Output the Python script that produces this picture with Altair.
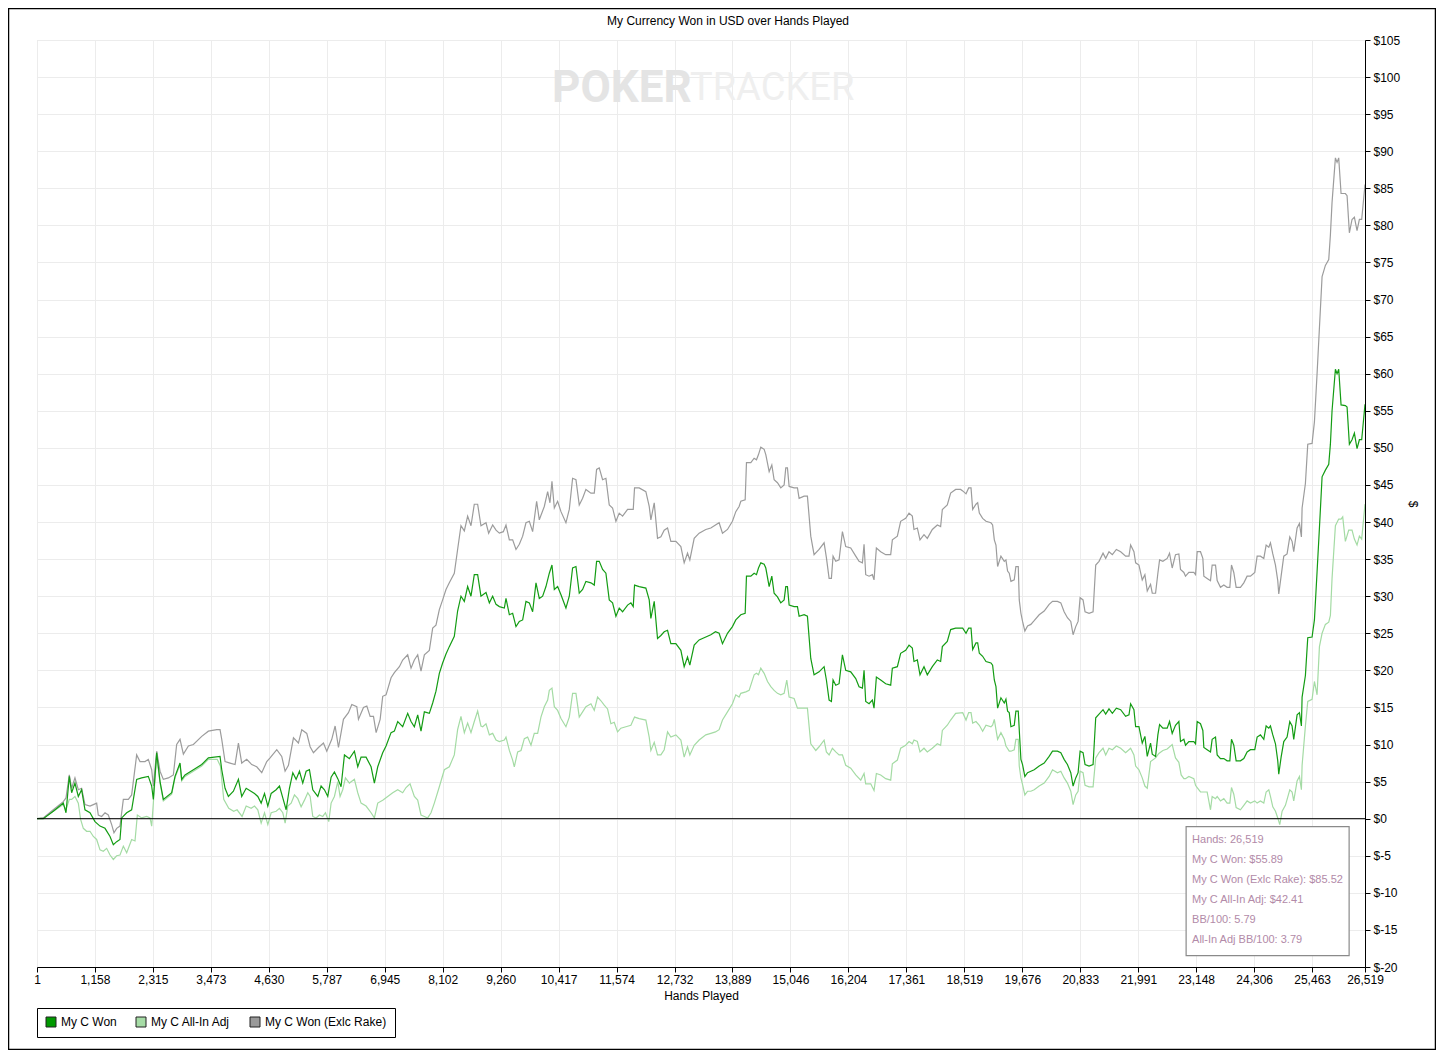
import altair as alt
import pandas as pd

SERIES = ["My C Won", "My C All-In Adj", "My C Won (Exlc Rake)"]
LINE_COLORS = ["#139c13", "#a4dba4", "#9c9c9c"]
SWATCH_COLORS = ["#009900", "#a6dca6", "#999999"]

X_TICKS = [1, 1158, 2315, 3473, 4630, 5787, 6945, 8102, 9260, 10417, 11574, 12732,
           13889, 15046, 16204, 17361, 18519, 19676, 20833, 21991, 23148, 24306,
           25463, 26519]
Y_TICKS = list(range(-20, 110, 5))

WON = [(1,0),(127,0),(326,1.0),(526,2.1),(580,0.8),(646,5.7),(693,3.5),(759,4.8),(826,3.0),(892,3.9),(959,1.2),(1059,0.8),(1159,-0.4),(1259,-1.0),(1359,-1.3),(1459,-2.4),(1525,-3.5),(1592,-3.1),(1658,-2.8),(1692,0.1),(1792,0.8),(1891,1.2),(1991,5.3),(2091,5.5),(2224,5.7),(2291,4.4),(2324,2.6),(2391,8.9),(2458,5.0),(2524,2.6),(2691,3.5),(2757,5.7),(2857,7.5),(2890,5.3),(2957,5.9),(3124,6.6),(3290,7.3),(3423,8.2),(3656,8.4),(3690,6.6),(3756,4.1),(3823,3.0),(3923,3.7),(4023,5.3),(4089,3.0),(4178,4.1),(4344,3.4),(4410,3.0),(4477,2.1),(4544,3.4),(4610,1.7),(4677,3.4),(4776,3.9),(4843,4.4),(4909,2.8),(4976,1.2),(5042,4.1),(5109,6.2),(5175,5.3),(5242,6.4),(5308,4.8),(5375,6.4),(5441,6.6),(5508,3.9),(5608,3.0),(5674,4.4),(5741,3.9),(5807,3.0),(5874,5.6),(5940,6.3),(6007,5.4),(6073,4.3),(6140,8.6),(6239,8.1),(6339,9.1),(6406,7.0),(6472,8.3),(6572,8.3),(6672,7.0),(6738,4.8),(6805,7.0),(6904,8.9),(6971,9.8),(7071,11.6),(7137,11.8),(7204,13.1),(7303,12.4),(7403,14.2),(7470,13.1),(7536,12.4),(7603,14.0),(7669,11.8),(7736,14.4),(7835,14.2),(7902,15.6),(7968,17.2),(8035,19.6),(8101,21.0),(8168,22.2),(8234,23.2),(8334,24.6),(8400,28.0),(8467,30.0),(8534,29.3),(8600,31.3),(8667,30.0),(8733,32.9),(8800,32.9),(8866,30.0),(8967,30.5),(9034,29.1),(9100,30.0),(9167,28.9),(9233,28.6),(9333,28.4),(9366,29.7),(9433,27.5),(9499,27.7),(9566,25.9),(9632,26.6),(9699,26.8),(9765,29.3),(9832,29.1),(9898,27.9),(9965,31.8),(10031,29.7),(10098,30.0),(10164,31.3),(10231,33.1),(10284,34.2),(10331,30.9),(10397,31.3),(10464,30.2),(10563,28.4),(10630,30.0),(10696,33.8),(10763,34.0),(10829,30.4),(10896,30.9),(10962,32.0),(11062,31.8),(11129,31.5),(11175,34.7),(11228,34.7),(11295,33.6),(11361,33.1),(11428,29.5),(11494,29.1),(11561,27.3),(11627,28.4),(11694,27.9),(11794,28.8),(11860,29.1),(11907,28.6),(11933,31.5),(12026,31.3),(12159,31.1),(12226,29.5),(12259,27.0),(12326,29.3),(12392,24.3),(12459,24.7),(12525,25.2),(12592,25.4),(12658,23.6),(12758,23.6),(12858,22.7),(12924,20.5),(12991,21.8),(13037,20.7),(13124,23.4),(13223,24.1),(13356,24.5),(13456,24.8),(13549,25.2),(13622,25.0),(13689,23.6),(13789,25.0),(13888,25.9),(13955,26.8),(14055,27.5),(14142,27.7),(14168,32.7),(14255,32.7),(14321,33.1),(14368,32.9),(14408,33.8),(14454,34.5),(14521,34.3),(14554,33.8),(14621,31.3),(14674,32.7),(14720,30.4),(14787,29.9),(14853,29.1),(14920,29.5),(14953,31.3),(14986,31.3),(15020,28.8),(15119,28.6),(15186,28.6),(15219,27.3),(15319,27.5),(15385,27.3),(15452,21.6),(15518,19.4),(15618,19.8),(15718,20.5),(15764,18.7),(15818,16.0),(15864,15.8),(15897,18.7),(15951,18.0),(16017,18.2),(16084,22.1),(16150,20.0),(16250,19.8),(16350,18.9),(16416,17.8),(16483,17.6),(16516,20.0),(16549,15.8),(16616,15.5),(16682,16.0),(16715,14.9),(16762,19.1),(16848,18.7),(16948,18.2),(17048,18.0),(17081,20.3),(17181,20.5),(17247,22.3),(17347,22.7),(17414,23.4),(17480,23.0),(17513,21.2),(17580,21.4),(17633,19.4),(17713,20.5),(17779,19.4),(17879,20.5),(17979,21.4),(18045,21.2),(18079,23.2),(18178,23.9),(18245,25.5),(18345,25.7),(18444,25.7),(18486,25.7),(18552,25.0),(18605,25.7),(18652,25.7),(18685,22.8),(18751,23.7),(18785,23.7),(18818,22.3),(18884,21.9),(18951,21.2),(19050,21.0),(19083,20.7),(19117,18.7),(19150,17.8),(19183,14.9),(19249,16.3),(19316,15.6),(19349,16.1),(19382,14.5),(19415,14.3),(19449,12.4),(19515,12.6),(19548,14.5),(19595,14.5),(19615,12.0),(19648,8.0),(19681,7.3),(19727,5.7),(19781,6.2),(19847,6.4),(19913,6.6),(20013,7.1),(20113,7.5),(20212,8.4),(20279,9.1),(20378,9.1),(20445,8.9),(20511,8.0),(20577,7.3),(20644,6.2),(20690,4.4),(20743,5.5),(20790,6.2),(20830,9.1),(20889,8.9),(20929,7.3),(21009,7.1),(21089,7.3),(21142,13.6),(21208,14.1),(21288,14.7),(21341,14.1),(21407,14.8),(21474,14.2),(21554,14.9),(21640,14.7),(21739,13.8),(21806,14.0),(21839,15.5),(21905,14.7),(21939,12.4),(22005,12.4),(22071,10.2),(22124,11.1),(22171,8.4),(22237,10.2),(22271,8.7),(22337,8.4),(22383,11.3),(22417,12.7),(22483,12.2),(22569,12.2),(22616,13.1),(22669,11.5),(22735,12.6),(22802,13.1),(22835,10.4),(22902,10.7),(22935,9.9),(23002,10.4),(23101,10.4),(23135,10.1),(23168,13.1),(23234,12.8),(23281,11.9),(23301,9.6),(23367,9.3),(23434,9.0),(23467,10.7),(23534,11.0),(23567,8.6),(23633,8.1),(23700,8.1),(23766,7.8),(23820,7.8),(23853,10.7),(23899,9.9),(23946,7.8),(24032,7.8),(24099,8.1),(24165,9.0),(24232,9.3),(24318,9.3),(24365,11.0),(24431,11.3),(24498,10.7),(24545,12.5),(24598,12.2),(24631,12.5),(24678,11.3),(24731,10.1),(24777,7.8),(24797,6.0),(24844,8.3),(24897,10.4),(24963,11.0),(25017,13.1),(25063,12.5),(25096,10.7),(25163,14.0),(25210,14.3),(25249,12.5),(25263,16.4),(25329,19.3),(25376,24.4),(25462,24.5),(25509,26.8),(25562,33.3),(25609,39.2),(25662,46.1),(25728,47.0),(25795,47.8),(25828,50.5),(25861,55.0),(25928,60.6),(25961,60.0),(25994,60.6),(26041,55.8),(26127,55.7),(26161,55.5),(26207,50.5),(26260,51.1),(26307,52.0),(26360,49.9),(26407,51.1),(26453,51.1),(26519,55.89)]

ADJ = [(1,0),(127,0.1),(326,1.0),(526,1.9),(580,1.2),(646,2.6),(693,2.6),(759,3.0),(826,2.1),(872,-0.1),(926,-1.3),(992,-1.7),(1059,-1.7),(1126,-2.4),(1192,-2.8),(1259,-4.2),(1325,-4.4),(1392,-4.0),(1459,-4.9),(1525,-5.5),(1592,-5.0),(1658,-4.9),(1725,-3.7),(1792,-4.6),(1891,-2.8),(1958,-3.0),(2005,0.5),(2091,0.1),(2191,0.3),(2258,0.1),(2291,-1.0),(2324,2.1),(2391,8.5),(2458,4.8),(2524,2.4),(2691,3.3),(2757,5.5),(2857,7.3),(2890,5.1),(2957,5.7),(3124,6.4),(3290,7.1),(3423,8.0),(3600,8.0),(3663,7.1),(3730,2.6),(3830,1.4),(3929,1.0),(3996,1.2),(4096,0.3),(4178,1.7),(4278,1.4),(4344,1.7),(4410,1.2),(4477,-0.6),(4544,0.8),(4610,-0.8),(4677,0.8),(4776,1.0),(4843,1.4),(4909,0.8),(4956,-0.6),(5009,1.7),(5076,2.1),(5142,3.2),(5209,2.7),(5275,1.6),(5342,2.5),(5408,3.5),(5455,3.0),(5508,0.3),(5574,0.1),(5641,0.5),(5707,0.3),(5761,0.8),(5827,-0.4),(5874,2.1),(5940,3.0),(6007,5.0),(6053,3.0),(6106,3.9),(6160,5.5),(6239,4.8),(6339,5.3),(6406,3.5),(6472,2.1),(6572,1.7),(6672,0.8),(6738,0.1),(6805,2.1),(6904,2.5),(7004,3.0),(7104,3.5),(7204,3.9),(7303,3.5),(7370,4.2),(7450,4.7),(7536,3.0),(7603,2.5),(7669,0.5),(7736,0.3),(7802,0.1),(7869,0.8),(7935,2.1),(8035,4.3),(8135,6.6),(8234,7.0),(8334,8.6),(8400,12.0),(8467,13.8),(8534,11.6),(8600,12.9),(8667,11.6),(8733,13.1),(8800,14.5),(8866,12.5),(8901,12.4),(8967,12.8),(9034,11.3),(9100,11.5),(9167,10.6),(9233,10.4),(9333,10.6),(9366,11.0),(9433,9.2),(9499,7.9),(9532,7.0),(9599,9.0),(9666,9.2),(9732,10.8),(9798,11.0),(9865,9.9),(9931,11.5),(9998,11.5),(10064,13.7),(10131,15.1),(10198,16.0),(10231,17.3),(10284,17.6),(10331,15.1),(10397,14.6),(10464,13.5),(10563,12.4),(10630,13.7),(10696,16.9),(10763,16.9),(10829,13.7),(10896,14.4),(10962,15.1),(11062,15.5),(11129,14.6),(11195,16.4),(11262,15.9),(11328,15.3),(11394,14.8),(11461,12.8),(11527,13.0),(11594,11.7),(11660,12.2),(11760,12.4),(11860,12.6),(11933,13.7),(12026,13.5),(12159,13.3),(12226,11.0),(12259,9.2),(12326,10.3),(12392,8.6),(12459,8.6),(12525,9.3),(12592,11.7),(12658,11.0),(12758,11.3),(12858,10.6),(12924,8.3),(12991,9.7),(13037,8.6),(13124,9.9),(13223,10.6),(13356,11.3),(13456,11.5),(13549,11.7),(13622,12.0),(13689,13.3),(13789,14.4),(13888,15.5),(13955,16.7),(14021,16.4),(14055,16.9),(14155,17.1),(14221,17.3),(14321,19.4),(14368,19.6),(14408,19.4),(14454,20.3),(14521,19.6),(14588,18.5),(14654,17.8),(14720,17.3),(14787,16.9),(14853,16.7),(14920,16.9),(14973,18.7),(15020,16.4),(15119,16.2),(15186,14.9),(15286,14.9),(15385,14.9),(15452,10.1),(15552,9.2),(15618,9.7),(15718,10.6),(15764,9.0),(15818,8.6),(15884,9.5),(15951,9.0),(16017,8.6),(16084,8.6),(16150,7.2),(16250,6.8),(16350,5.9),(16450,5.2),(16516,6.1),(16549,4.7),(16649,4.7),(16715,3.8),(16762,6.1),(16848,5.9),(16948,5.4),(17048,5.2),(17081,7.4),(17181,7.9),(17247,9.5),(17347,9.9),(17414,10.4),(17480,10.1),(17513,10.6),(17580,10.4),(17633,9.0),(17713,9.5),(17779,9.0),(17879,9.5),(17979,10.1),(18045,9.9),(18079,11.9),(18178,12.6),(18245,13.3),(18345,14.2),(18486,14.3),(18552,13.3),(18605,14.3),(18652,14.3),(18685,12.9),(18751,13.1),(18818,12.6),(18884,11.8),(18951,12.6),(19050,12.4),(19083,12.6),(19117,13.4),(19150,12.0),(19183,10.7),(19249,11.6),(19316,10.7),(19349,9.8),(19415,9.1),(19449,9.1),(19515,9.3),(19548,10.7),(19595,10.7),(19615,7.1),(19648,5.5),(19681,4.6),(19727,3.2),(19781,3.7),(19847,3.7),(19913,3.9),(20013,4.4),(20113,4.8),(20212,5.7),(20279,6.6),(20378,6.2),(20445,6.4),(20511,5.5),(20577,4.8),(20644,3.7),(20690,1.9),(20743,3.2),(20790,3.7),(20830,6.4),(20889,6.2),(20929,4.5),(21009,4.3),(21089,4.3),(21142,8.2),(21208,8.9),(21288,9.5),(21341,8.6),(21407,9.5),(21474,9.3),(21554,9.8),(21640,9.5),(21739,8.9),(21839,9.5),(21905,8.6),(21939,7.1),(22005,6.6),(22071,5.5),(22124,4.4),(22171,4.1),(22237,7.7),(22337,8.2),(22403,8.8),(22483,9.2),(22569,9.4),(22669,10.0),(22735,8.2),(22802,7.6),(22848,5.9),(22902,5.4),(22935,5.4),(23002,5.7),(23101,5.4),(23135,4.5),(23168,4.2),(23234,3.6),(23301,3.6),(23367,3.6),(23434,1.2),(23467,3.0),(23534,2.7),(23567,3.0),(23633,2.4),(23700,2.7),(23766,2.1),(23820,2.1),(23853,4.2),(23899,3.3),(23946,1.5),(24032,1.2),(24099,1.8),(24165,2.4),(24232,2.1),(24318,2.4),(24365,2.1),(24431,2.4),(24498,2.1),(24545,3.6),(24598,3.9),(24631,3.0),(24678,1.6),(24731,1.0),(24777,0.1),(24817,-0.8),(24864,1.0),(24930,1.8),(25017,3.9),(25063,3.6),(25096,2.4),(25163,5.1),(25210,5.7),(25249,3.9),(25263,7.2),(25329,12.5),(25376,15.8),(25462,16.1),(25509,18.5),(25562,16.7),(25609,23.2),(25662,25.0),(25728,26.2),(25795,26.5),(25828,27.4),(25861,32.4),(25928,39.5),(25994,40.4),(26041,40.4),(26074,40.7),(26127,37.4),(26194,38.9),(26260,38.9),(26307,37.7),(26360,36.9),(26407,38.1),(26453,37.7),(26519,42.41)]

RAKE = [(1,0),(127,0.1),(326,1.2),(526,2.3),(580,2.8),(646,5.9),(693,4.1),(759,5.5),(826,3.9),(892,4.1),(959,1.9),(1059,1.7),(1126,1.9),(1192,2.1),(1225,0.5),(1292,0.3),(1359,0.8),(1425,0.5),(1492,-0.8),(1538,-1.9),(1592,-1.3),(1658,-1.0),(1725,2.6),(1825,2.6),(1891,3.2),(1991,8.6),(2058,7.7),(2158,7.7),(2224,8.0),(2291,6.6),(2324,4.4),(2391,9.1),(2458,6.4),(2524,5.3),(2624,5.5),(2724,5.9),(2790,10.0),(2857,10.7),(2924,8.7),(3024,9.8),(3124,10.0),(3290,11.1),(3423,11.8),(3590,12.0),(3656,12.0),(3690,10.7),(3756,7.7),(3856,7.5),(3956,7.3),(4023,10.2),(4089,7.5),(4189,8.0),(4289,7.3),(4389,7.0),(4489,6.2),(4589,7.7),(4655,8.2),(4789,9.3),(4888,8.4),(4955,6.4),(5022,7.2),(5122,10.9),(5221,10.2),(5288,12.0),(5388,11.5),(5455,9.7),(5521,8.9),(5621,9.6),(5721,10.2),(5787,9.1),(5887,10.7),(5954,12.5),(6021,9.6),(6120,13.4),(6220,14.3),(6287,15.4),(6387,15.1),(6420,13.4),(6520,15.0),(6587,15.2),(6653,13.8),(6720,13.8),(6773,11.6),(6853,13.4),(6904,16.5),(6971,16.7),(7071,19.0),(7137,19.7),(7237,20.5),(7303,21.4),(7403,22.1),(7470,20.3),(7536,21.4),(7603,22.1),(7669,19.9),(7736,22.1),(7835,22.7),(7902,25.7),(7968,26.1),(8035,28.2),(8101,29.5),(8168,30.9),(8234,31.8),(8334,33.1),(8400,36.3),(8467,39.5),(8534,38.8),(8600,40.8),(8667,39.5),(8733,42.4),(8800,42.4),(8866,39.5),(8967,39.9),(9020,38.5),(9100,39.6),(9167,38.9),(9233,38.5),(9313,38.7),(9366,39.6),(9433,37.6),(9499,37.6),(9566,36.3),(9632,37.0),(9699,38.1),(9765,39.9),(9832,40.1),(9898,38.7),(9978,42.8),(10031,40.3),(10131,42.1),(10198,44.1),(10244,42.6),(10284,45.5),(10331,41.9),(10397,42.8),(10464,41.4),(10563,39.9),(10630,41.7),(10696,45.9),(10763,45.7),(10829,42.3),(10896,43.2),(10962,44.4),(11062,43.9),(11129,43.9),(11175,47.1),(11228,47.3),(11295,45.7),(11361,45.9),(11428,42.3),(11494,41.9),(11561,40.1),(11627,41.2),(11694,40.8),(11794,41.7),(11860,41.7),(11907,41.7),(11933,44.6),(12026,44.6),(12159,44.1),(12226,42.1),(12259,40.3),(12326,42.6),(12392,37.8),(12459,38.0),(12525,38.9),(12592,39.2),(12658,37.4),(12758,37.4),(12858,36.7),(12924,34.5),(12991,35.8),(13037,34.9),(13124,37.8),(13223,38.5),(13356,39.0),(13456,39.2),(13549,39.6),(13622,39.9),(13689,38.5),(13789,39.0),(13888,40.1),(13955,41.4),(14021,42.1),(14055,42.8),(14142,43.0),(14168,48.0),(14255,48.0),(14321,48.6),(14368,48.4),(14408,49.1),(14454,50.1),(14521,49.8),(14554,49.1),(14621,46.8),(14674,47.7),(14720,45.7),(14787,45.3),(14853,44.6),(14920,45.0),(14953,47.3),(14986,47.3),(15020,44.8),(15119,44.6),(15186,44.6),(15219,43.2),(15319,43.5),(15385,43.5),(15452,38.1),(15518,35.6),(15618,36.3),(15718,37.2),(15764,35.2),(15818,32.4),(15864,32.4),(15897,35.4),(15951,34.7),(16017,34.9),(16084,38.7),(16150,36.7),(16250,36.5),(16350,35.4),(16416,34.7),(16483,34.5),(16516,37.0),(16549,32.9),(16616,32.7),(16682,32.9),(16715,32.2),(16762,36.5),(16848,36.0),(16948,35.6),(17048,35.6),(17081,37.6),(17181,38.1),(17247,40.1),(17347,40.5),(17414,41.2),(17480,40.8),(17513,39.0),(17580,39.2),(17633,37.6),(17713,38.3),(17779,37.8),(17879,39.0),(17979,39.6),(18045,39.4),(18079,41.7),(18178,42.3),(18245,43.9),(18345,44.4),(18444,44.4),(18486,44.2),(18552,43.8),(18605,44.6),(18652,44.6),(18685,41.7),(18751,42.4),(18785,42.6),(18818,41.2),(18884,40.5),(18951,40.1),(19050,39.9),(19083,39.6),(19117,37.6),(19150,36.9),(19183,34.0),(19249,35.4),(19316,34.7),(19349,34.9),(19382,33.4),(19415,33.1),(19449,32.0),(19515,32.2),(19548,34.0),(19595,34.0),(19615,29.5),(19648,27.7),(19681,26.6),(19727,25.3),(19781,26.0),(19847,26.2),(19913,26.7),(20013,27.5),(20113,28.0),(20212,28.9),(20279,29.3),(20378,29.3),(20445,29.1),(20511,27.9),(20577,27.1),(20644,26.6),(20690,24.8),(20743,25.9),(20790,26.6),(20830,29.8),(20889,29.5),(20929,27.9),(21009,27.7),(21089,27.9),(21142,34.2),(21208,34.7),(21288,35.8),(21341,35.1),(21407,36.0),(21474,35.6),(21554,36.3),(21640,36.0),(21739,35.4),(21806,35.4),(21839,36.9),(21905,36.0),(21939,34.5),(22005,34.2),(22071,32.2),(22124,32.9),(22171,30.7),(22237,31.6),(22271,30.4),(22337,30.4),(22383,33.1),(22417,34.9),(22483,34.7),(22569,35.1),(22616,35.8),(22669,33.8),(22735,35.6),(22802,35.7),(22835,33.6),(22902,33.2),(22935,32.7),(23002,33.2),(23101,33.2),(23135,32.9),(23168,36.0),(23234,36.0),(23281,35.1),(23301,32.7),(23367,32.4),(23434,32.1),(23467,34.2),(23534,34.2),(23567,32.1),(23633,31.2),(23700,31.5),(23766,31.2),(23820,31.2),(23853,34.2),(23899,33.2),(23946,31.2),(24032,31.2),(24099,31.8),(24165,32.7),(24232,32.7),(24318,33.2),(24365,35.4),(24431,35.4),(24498,35.1),(24545,36.9),(24598,36.6),(24631,37.2),(24678,35.7),(24731,34.2),(24777,32.1),(24797,30.3),(24844,32.7),(24897,35.4),(24963,35.7),(25017,38.0),(25063,37.4),(25096,36.0),(25163,39.2),(25210,39.8),(25249,38.0),(25263,41.9),(25329,45.2),(25376,50.5),(25462,50.6),(25509,53.5),(25562,60.0),(25609,66.2),(25662,73.1),(25728,74.6),(25795,75.4),(25828,78.7),(25861,83.1),(25928,89.1),(25961,88.5),(25994,89.1),(26041,84.3),(26127,84.3),(26161,84.0),(26207,79.0),(26260,80.8),(26307,81.1),(26360,79.3),(26407,80.8),(26453,80.8),(26519,85.52)]

TITLE = "My Currency Won in USD over Hands Played"
INFO_LINES = ["Hands: 26,519", "My C Won: $55.89", "My C Won (Exlc Rake): $85.52",
              "My C All-In Adj: $42.41", "BB/100: 5.79", "All-In Adj BB/100: 3.79"]

FONT = "Liberation Sans"
W, H = 1328, 927

rows = []
for name, pts in zip(SERIES, [WON, ADJ, RAKE]):
    for h, v in pts:
        rows.append({"hands": h, "usd": v, "series": name})
df = pd.DataFrame(rows)

X_SCALE = alt.Scale(domain=[1, 26519], nice=False, zero=False)
Y_SCALE = alt.Scale(domain=[-20, 105], nice=False, zero=False)

x_enc = alt.X("hands:Q", scale=X_SCALE,
              axis=alt.Axis(values=X_TICKS, format=",d", title="Hands Played",
                            labelFlush=False, labelOverlap=False, grid=True,
                            gridColor="#ececec", tickColor="black", domainColor="black",
                            tickSize=5, labelPadding=2, titlePadding=5,
                            labelFont=FONT, labelFontSize=12, labelColor="black",
                            titleFont=FONT, titleFontSize=12, titleFontWeight="normal",
                            titleColor="black"))
y_enc = alt.Y("usd:Q", scale=Y_SCALE,
              axis=alt.Axis(orient="right", values=Y_TICKS, labelExpr="'$' + datum.value",
                            title="$", labelFlush=False, labelOverlap=False, grid=True,
                            gridColor="#ececec", tickColor="black", domainColor="black",
                            tickSize=5, labelPadding=3, titlePadding=6,
                            labelFont=FONT, labelFontSize=12, labelColor="black",
                            titleFont=FONT, titleFontSize=12, titleFontWeight="normal",
                            titleColor="black"))

base = alt.Chart(df)
color_scale = alt.Scale(domain=SERIES, range=LINE_COLORS)

layers = []
for name in ["My C All-In Adj", "My C Won (Exlc Rake)", "My C Won"]:
    layers.append(
        base.transform_filter(alt.datum.series == name)
        .mark_line(strokeWidth=1.2, clip=True)
        .encode(x=x_enc, y=y_enc,
                color=alt.Color("series:N", scale=color_scale, legend=None))
    )

legend_layer = base.transform_filter(alt.datum.hands == 1).mark_square(size=0, opacity=0).encode(
    x=x_enc, y=y_enc,
    fill=alt.Fill("series:N", scale=alt.Scale(domain=SERIES, range=SWATCH_COLORS),
                  legend=alt.Legend(orient="none", legendX=0, legendY=968,
                                    direction="horizontal", title=None,
                                    symbolType="square", symbolSize=100,
                                    symbolOpacity=1, symbolStrokeColor="#222222",
                                    symbolStrokeWidth=1, labelFont=FONT,
                                    labelFontSize=12, labelColor="black",
                                    labelOffset=4, columnPadding=17,
                                    strokeColor="black", fillColor="white",
                                    padding=8, cornerRadius=0))
)

zero_rule = alt.Chart(pd.DataFrame({"usd": [0]})).mark_rule(color="black", strokeWidth=1).encode(
    y=y_enc)

title_text = alt.Chart(pd.DataFrame({"hands": [13800], "usd": [107.5], "t": [TITLE]})).mark_text(
    align="center", baseline="middle", font=FONT, fontSize=12, color="black").encode(
    x=x_enc, y=y_enc, text="t:N")

wm_poker = alt.Chart(pd.DataFrame({"hands": [10286], "usd": [98.4], "t": ["POKER"]})).mark_text(
    align="left", baseline="middle", font="Roboto", fontSize=44, fontWeight="bold",
    color="#e4e4e4").encode(x=x_enc, y=y_enc, text="t:N")
wm_tracker = alt.Chart(pd.DataFrame({"hands": [13041], "usd": [98.4], "t": ["TRACKER"]})).mark_text(
    align="left", baseline="middle", font="Roboto", fontSize=38, fontWeight="normal",
    color="#efefef").encode(x=x_enc, y=y_enc, text="t:N")

box = alt.Chart(pd.DataFrame({"hands": [22947], "hands2": [26202],
                              "usd": [-1.08], "usd2": [-18.47]})).mark_rect(
    fill="white", stroke="#8a8a8a", strokeWidth=1.2).encode(
    x=x_enc, x2="hands2:Q", y=y_enc, y2="usd2:Q")

info = pd.DataFrame({"hands": [23066] * 6,
                     "usd": [-2.83, -5.53, -8.23, -10.92, -13.62, -16.32],
                     "t": INFO_LINES})
info_text = alt.Chart(info).mark_text(align="left", baseline="middle", font=FONT,
                                      fontSize=11, color="#b28aa8").encode(
    x=x_enc, y=y_enc, text="t:N")

frame = alt.Chart(pd.DataFrame({"a": [0]})).mark_rect(
    fill="transparent", stroke="black", strokeWidth=1.5).encode(
    x=alt.value(-28.5), x2=alt.value(1398.5), y=alt.value(-31.5), y2=alt.value(1009.5))

chart = alt.layer(wm_poker, wm_tracker, *layers, zero_rule, box, info_text,
                  legend_layer, title_text, frame).properties(
    width=W, height=H,
    autosize=alt.AutoSizeParams(type="none"),
    padding={"left": 29, "top": 32, "right": 71, "bottom": 83},
).resolve_scale(color="independent", fill="independent").configure_view(
    stroke="black", strokeWidth=1
).configure(background="white")

chart.save("out.html", embed_options={"renderer": "svg", "actions": False})
